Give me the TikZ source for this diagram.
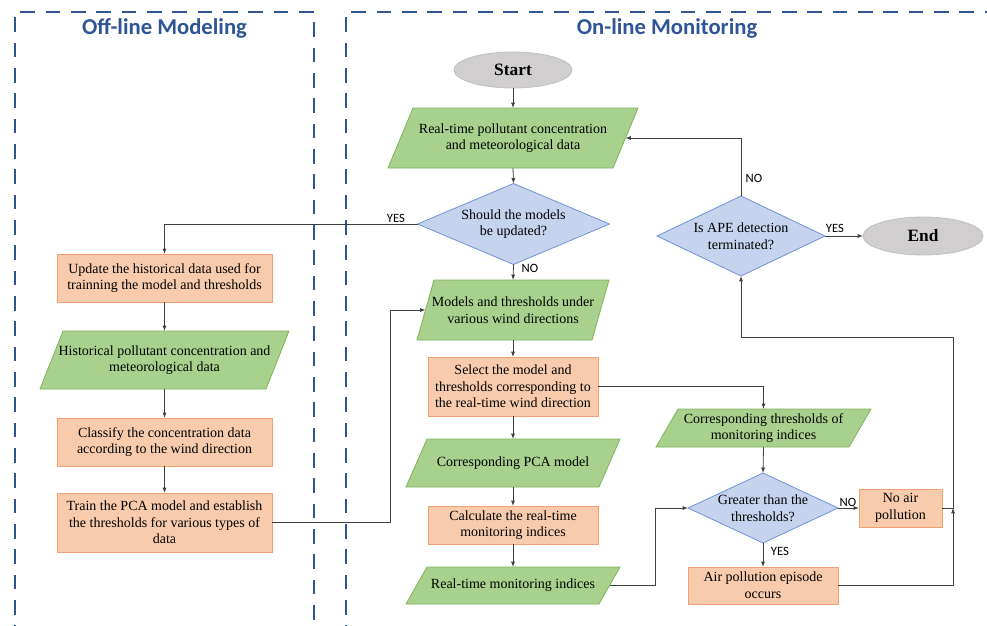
\documentclass[tikz,border=0pt]{standalone}
\usepackage{fontspec}
\setmainfont{Liberation Serif}
\newfontfamily\calib{Carlito}
\usetikzlibrary{shapes.geometric,arrows.meta}
\definecolor{tblue}{HTML}{2F5597}
\definecolor{gfill}{HTML}{A9D18E}
\definecolor{gline}{HTML}{7FB25A}
\definecolor{ofill}{HTML}{F8CBAD}
\definecolor{oline}{HTML}{EEA273}
\definecolor{bfill}{HTML}{C5D3EE}
\definecolor{bline}{HTML}{7193D1}
\definecolor{efill}{HTML}{D0CECE}
\definecolor{eline}{HTML}{BFBFBF}
\definecolor{cline}{HTML}{404040}
\tikzset{
  wh/.style 2 args={minimum width={(#1)*0.75pt}, minimum height={(#2)*0.75pt}},
  box/.style={rectangle, draw=oline, fill=ofill, line width=0.6pt, align=center, inner sep=0pt, outer sep=0pt},
  dia/.style={diamond, draw=bline, fill=bfill, line width=0.6pt, align=center, inner sep=0pt, outer sep=0pt},
  term/.style={ellipse, draw=eline, fill=efill, line width=0.6pt, inner sep=0pt, outer sep=0pt, font=\fontsize{13}{15}\selectfont\bfseries},
  paratext/.style={rectangle, inner sep=0pt, outer sep=0pt, align=center},
  parafill/.style={draw=gline, fill=gfill, line width=0.6pt},
  arr/.style={draw=cline, line width=0.6pt, -{Latex[length=4pt,width=3pt]}},
  lbl/.style={font=\calib\fontsize{9.5}{11}\selectfont, inner sep=0pt},
  titlefont/.style={font=\calib\bfseries\fontsize{17}{20}\selectfont, text=tblue, inner sep=0pt},
  lanebox/.style={draw=tblue, line width=1.5pt, dash pattern=on 11pt off 8pt}
}
% name, cx, cy, w, h, slant, text
\newcommand\paranode[7]{%
  \filldraw[parafill] ({#2-#4/2},{#3+#5/2}) -- ({#2+#4/2-#6},{#3+#5/2}) -- ({#2+#4/2},{#3-#5/2}) -- ({#2-#4/2+#6},{#3-#5/2}) -- cycle;
  \node[paratext, wh={#4-#6}{#5}] (#1) at (#2,#3) {#7};
}
\begin{document}
\begin{tikzpicture}[x=0.75pt, y=-0.75pt, font=\fontsize{10.5}{12.5}\selectfont]
\useasboundingbox (0,0) rectangle (987,625);

% lanes
\draw[lanebox] (15,640) -- (15,12) -- (314,12) -- (314,640);
\draw[lanebox] (346,640) -- (346,12) -- (995,12);
\node[titlefont] (t1) at (164.5,28) {Off-line Modeling};
\node[titlefont] (t2) at (667,28) {On-line Monitoring};

% off-line column
\node[box, wh={215}{48}] (update) at (164.5,278) {Update the historical data used for\\trainning the model and thresholds};
\paranode{hist}{164.5}{360}{249}{58}{23}{Historical pollutant concentration and\\meteorological data}
\node[box, wh={215}{48}] (classify) at (164.5,442) {Classify the concentration data\\according to the wind direction};
\node[box, wh={215}{59}] (train) at (164.5,522.5) {Train the PCA model and establish\\the thresholds for various types of\\data};

% on-line column
\node[term, wh={118}{36}] (start) at (513,70) {Start};
\paranode{rtdata}{513}{138}{250}{60}{25}{Real-time pollutant concentration\\and meteorological data}
\node[dia, aspect=2.37, wh={192}{81}] (should) at (513.5,224) {Should the models\\be updated?};
\paranode{models}{513}{310}{192}{60}{17}{Models and thresholds under\\various wind directions}
\node[box, wh={170}{59}] (select) at (513,386.5) {Select the model and\\thresholds corresponding to\\the real-time wind direction};
\paranode{pca}{513}{463}{214}{48}{21}{Corresponding PCA model}
\node[box, wh={170}{38}] (calc) at (513,525) {Calculate the real-time\\monitoring indices};
\paranode{rtind}{513}{585.5}{214}{37}{21}{Real-time monitoring indices}

\paranode{corr}{763.5}{428}{215}{38}{22}{Corresponding thresholds of\\monitoring indices}
\node[dia, aspect=2.14, wh={150}{70}] (greater) at (763,508) {Greater than the\\thresholds?};
\node[box, wh={83}{38}] (noair) at (900.5,508) {No air\\pollution};
\node[box, wh={150}{37}] (air) at (763,585.5) {Air pollution episode\\occurs};

\node[dia, aspect=2.1, wh={168}{80}] (ape) at (741,236) {Is APE detection\\terminated?};
\node[term, wh={120}{38}] (stop) at (923,236) {End};

% junction coordinates
\coordinate (jA) at (390,0);
\coordinate (jB) at (655,0);
\coordinate (jC) at (953,508);
\coordinate (jD) at (0,337);

% connectors
\draw[arr] (start.south) -- (rtdata.north);
\draw[arr] (rtdata.south) -- (should.north);
\draw[arr] (should.south) -- (models.north);
\draw[arr] (should.west) -| (update.north);
\draw[arr] (update.south) -- (hist.north);
\draw[arr] (hist.south) -- (classify.north);
\draw[arr] (classify.south) -- (train.north);
\draw[arr] (train.east) -- (train.east -| jA) |- (models.west);
\draw[arr] (models.south) -- (select.north);
\draw[arr] (select.south) -- (pca.north);
\draw[arr] (pca.south) -- (calc.north);
\draw[arr] (calc.south) -- (rtind.north);
\draw[arr] (select.east) -| (corr.north);
\draw[arr] (corr.south) -- (greater.north);
\draw[arr] (rtind.east) -- (rtind.east -| jB) |- (greater.west);
\draw[arr] (greater.east) -- (noair.west);
\draw[arr] (greater.south) -- (air.north);
\draw[arr] (air.east) -| (jC);
\draw[arr] (noair.east) -- (jC) -- (jC |- jD) -| (ape.south);
\draw[arr] (ape.north) |- (rtdata.east);
\draw[arr] (ape.east) -- (stop.west);

% labels
\node[lbl] (l1) at (396,218) {YES};
\node[lbl] (l2) at (530,268) {NO};
\node[lbl] (l3) at (754,178) {NO};
\node[lbl] (l4) at (835,228) {YES};
\node[lbl] (l5) at (848,502) {NO};
\node[lbl] (l6) at (780,551) {YES};
\end{tikzpicture}
\end{document}
